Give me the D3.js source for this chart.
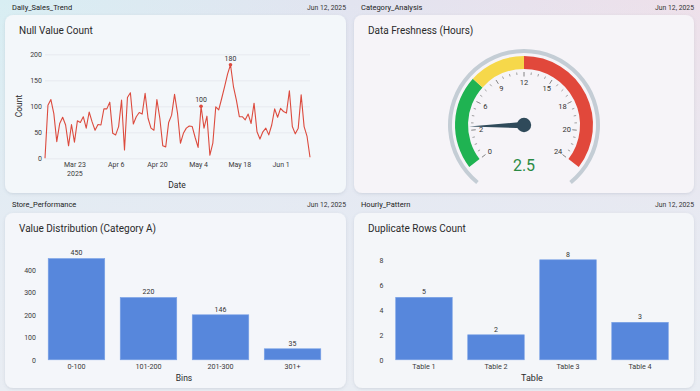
<!DOCTYPE html>
<html><head><meta charset="utf-8">
<script src="https://cdn.jsdelivr.net/npm/d3@7"></script>
<style>
html,body{margin:0;padding:0;overflow:hidden;background:#e6ebf2}
svg{display:block;font-family:Roboto,"Noto Sans",sans-serif}
</style>
</head><body>
<svg id="c" width="700" height="391"></svg>
<script>
// ---------- DATA ----------
const panelNames = ["Daily_Sales_Trend", "Category_Analysis", "Store_Performance", "Hourly_Pattern"];
const panelTitles = ["Null Value Count", "Data Freshness (Hours)", "Value Distribution (Category A)", "Duplicate Rows Count"];
const panelDate = "Jun 12, 2025";

const nullStartDate = "2025-03-13";
const nullCounts = [
  0,102,113,86,32,67,79,64,24,65,
  31,72,69,80,58,89,70,54,65,64,
  95,95,108,48,45,61,112,16,117,126,
  66,80,88,85,125,77,58,54,113,77,
  24,22,69,83,123,87,29,48,58,62,
  61,40,21,100,58,81,6,29,99,93,
  115,138,162,180,138,112,80,80,74,85,
  67,106,51,37,51,58,45,64,95,79,
  96,90,87,130,61,47,58,122,61,42,
  2];
const nullMarkedDates = ["2025-05-05", "2025-05-15"];
const nullTickDates = ["2025-03-23", "2025-04-06", "2025-04-20", "2025-05-04", "2025-05-18", "2025-06-01"];
const nullYTicks = [0, 50, 100, 150, 200];

const gaugeValue = 2.5;
const gaugeTickValues = [0, 2, 6, 9, 12, 15, 18, 20, 24];
const gaugeBands = [
  {from: 0, to: 7.5, color: "#1fb352"},
  {from: 7.5, to: 12, color: "#f6d84a"},
  {from: 12, to: 24, color: "#e1483b"}
];

const bins = ["0-100", "101-200", "201-300", "301+"];
const binCounts = [450, 277, 200, 49];
const binCountLabels = ["450", "220", "146", "35"];
const binYTicks = [0, 100, 200, 300, 400];

const tables = ["Table 1", "Table 2", "Table 3", "Table 4"];
const dupCounts = [5, 2, 8, 3];
const dupYTicks = [0, 2, 4, 6, 8];

// ---------- SETUP ----------
const svg = d3.select("#c");
const defs = svg.append("defs");

const bgH = defs.append("linearGradient").attr("id", "bgH").attr("x1", 0).attr("x2", 1).attr("y1", 0).attr("y2", 0);
bgH.append("stop").attr("offset", "0%").attr("stop-color", "#d8eef3");
bgH.append("stop").attr("offset", "50%").attr("stop-color", "#e2e4f0");
bgH.append("stop").attr("offset", "100%").attr("stop-color", "#eee0ea");
const bgV = defs.append("linearGradient").attr("id", "bgV").attr("x1", 0).attr("x2", 0).attr("y1", 0).attr("y2", 1);
bgV.append("stop").attr("offset", "0%").attr("stop-color", "#e6ebf2").attr("stop-opacity", 0);
bgV.append("stop").attr("offset", "55%").attr("stop-color", "#e6ebf3").attr("stop-opacity", 0.85);
bgV.append("stop").attr("offset", "100%").attr("stop-color", "#e9edf3").attr("stop-opacity", 1);

const sh = defs.append("filter").attr("id", "sh").attr("x", "-10%").attr("y", "-10%").attr("width", "120%").attr("height", "130%");
sh.append("feDropShadow").attr("dx", 0).attr("dy", 1).attr("stdDeviation", 1.8).attr("flood-color", "#5a6a80").attr("flood-opacity", 0.18);

svg.append("rect").attr("width", 700).attr("height", 391).attr("fill", "url(#bgH)");
svg.append("rect").attr("width", 700).attr("height", 391).attr("fill", "url(#bgV)");

const panels = [
  {x: 5, y: 15, w: 341, h: 178, hy: 10, fill: "#f3f7fa"},
  {x: 354, y: 15, w: 340, h: 178, hy: 10, fill: "#f6f4f8"},
  {x: 5, y: 213, w: 341, h: 175, hy: 207, fill: "#f4f6fa"},
  {x: 354, y: 213, w: 340, h: 175, hy: 207, fill: "#f4f6f9"}
];
panels.forEach((p, i) => {
  svg.append("text").attr("x", p.x + 7).attr("y", p.hy).attr("font-size", 7.5).attr("fill", "#222").text(panelNames[i]);
  svg.append("text").attr("x", p.x + p.w).attr("y", p.hy).attr("text-anchor", "end").attr("font-size", 6.8).attr("fill", "#333").text(panelDate);
  svg.append("rect").attr("x", p.x).attr("y", p.y).attr("width", p.w).attr("height", p.h)
    .attr("rx", 8).attr("fill", p.fill).attr("filter", "url(#sh)");
  svg.append("text").attr("x", p.x + 14).attr("y", p.y + 18.5).attr("font-size", 10).attr("fill", "#2a2a2a").text(panelTitles[i]);
});

function styleAxis(g, size) {
  g.select(".domain").remove();
  g.selectAll("text").attr("font-size", size || 7).attr("fill", "#3a3a3a").attr("font-family", "Roboto, 'Noto Sans', sans-serif");
}

// ---------- LINE CHART ----------
(function () {
  const parse = d3.timeParse("%Y-%m-%d");
  const start = parse(nullStartDate);
  const data = nullCounts.map((v, i) => ({date: d3.timeDay.offset(start, i), value: v}));
  const x = d3.scaleTime().domain(d3.extent(data, d => d.date)).range([45, 310]);
  const y = d3.scaleLinear().domain([0, 200]).range([158.3, 54.3]);

  const gy = svg.append("g").attr("transform", "translate(45,0)")
    .call(d3.axisLeft(y).tickValues(nullYTicks).tickSize(-265).tickPadding(3));
  styleAxis(gy);
  gy.selectAll("line").attr("stroke", "#e3e7ed").attr("stroke-width", 0.8);

  const gx = svg.append("g").attr("transform", "translate(0,158.3)")
    .call(d3.axisBottom(x).tickValues(nullTickDates.map(parse)).tickFormat(d3.timeFormat("%b %-d")).tickSize(0).tickPadding(3.5));
  styleAxis(gx);
  gx.selectAll(".tick").filter((d, i) => i === 0).select("text")
    .append("tspan").attr("x", 0).attr("dy", "1.25em").text("2025");

  svg.append("path").datum(data)
    .attr("fill", "none").attr("stroke", "#dc4b3e").attr("stroke-width", 1.1).attr("stroke-linejoin", "round")
    .attr("d", d3.line().x(d => x(d.date)).y(d => y(d.value)));

  const marked = data.filter(d => nullMarkedDates.includes(d3.timeFormat("%Y-%m-%d")(d.date)));
  svg.selectAll(".mk").data(marked).join("circle")
    .attr("cx", d => x(d.date)).attr("cy", d => y(d.value)).attr("r", 1.8).attr("fill", "#dc4b3e");
  svg.selectAll(".mkt").data(marked).join("text")
    .attr("x", d => x(d.date)).attr("y", d => y(d.value) - 4).attr("text-anchor", "middle")
    .attr("font-size", 7).attr("fill", "#333").text(d => d.value);

  svg.append("text").attr("x", 177).attr("y", 188).attr("text-anchor", "middle").attr("font-size", 8.5).attr("fill", "#2a2a2a").text("Date");
  svg.append("text").attr("transform", "translate(22,106) rotate(-90)").attr("text-anchor", "middle")
    .attr("font-size", 8.5).attr("fill", "#2a2a2a").text("Count");
})();

// ---------- GAUGE ----------
(function () {
  const cx = 524, cy = 125;
  const deg = Math.PI / 180;
  const n = gaugeTickValues.length - 1;
  const angle = d3.scaleLinear().domain(gaugeTickValues)
    .range(gaugeTickValues.map((d, i) => (-127.5 + i * 255 / n) * deg));
  const g = svg.append("g").attr("transform", `translate(${cx},${cy})`);

  g.append("path").attr("fill", "#c4cdd5")
    .attr("d", d3.arc()({innerRadius: 72, outerRadius: 76, startAngle: -141 * deg, endAngle: 141 * deg}));
  g.selectAll(".band").data(gaugeBands).join("path")
    .attr("fill", d => d.color)
    .attr("d", d => d3.arc()({innerRadius: 56, outerRadius: 69, startAngle: angle(d.from), endAngle: angle(d.to)}));

  // ticks (major + minor)
  const ticks = [];
  for (let i = 0; i < n; i++) {
    const a0 = gaugeTickValues[i], a1 = gaugeTickValues[i + 1];
    for (let k = 0; k < 4; k++) ticks.push({v: a0 + (a1 - a0) * k / 4, major: k === 0});
  }
  ticks.push({v: gaugeTickValues[n], major: true});
  g.selectAll(".tk").data(ticks).join("line")
    .attr("x1", d => Math.sin(angle(d.v)) * (d.major ? 48.5 : 50.5))
    .attr("y1", d => -Math.cos(angle(d.v)) * (d.major ? 48.5 : 50.5))
    .attr("x2", d => Math.sin(angle(d.v)) * 53)
    .attr("y2", d => -Math.cos(angle(d.v)) * 53)
    .attr("stroke", "#666").attr("stroke-width", d => d.major ? 0.8 : 0.6);
  g.selectAll(".tl").data(gaugeTickValues).join("text")
    .attr("x", d => Math.sin(angle(d)) * 43)
    .attr("y", d => -Math.cos(angle(d)) * 43)
    .attr("dy", "0.35em").attr("text-anchor", "middle")
    .attr("font-size", 7.5).attr("fill", "#333").text(d => d);

  const a = angle(gaugeValue);
  const L = 55, w = 3.2;
  const tip = [Math.sin(a) * L, -Math.cos(a) * L];
  const p1 = [Math.cos(a) * w, Math.sin(a) * w];
  const p2 = [-Math.cos(a) * w, -Math.sin(a) * w];
  g.append("path").attr("fill", "#2f4a5a")
    .attr("d", d3.line()([p1, tip, p2]) + "Z");
  g.append("circle").attr("r", 7.2).attr("fill", "#2f4a5a");

  g.append("text").attr("x", 0).attr("y", 45.5).attr("text-anchor", "middle")
    .attr("font-size", 16).attr("fill", "#2b8a44").text(gaugeValue);
})();

// ---------- BAR CHARTS ----------
function barChart(cats, vals, labels, yTicks, yMax, xr, xLabel, xLabelX, xLabelSize) {
  const x = d3.scaleBand().domain(cats).range(xr).paddingInner(0.215).paddingOuter(0.1);
  const y = d3.scaleLinear().domain([0, yMax]).range([359.8, 259.8]);
  const gy = svg.append("g").attr("transform", `translate(${xr[0] - 2},0)`)
    .call(d3.axisLeft(y).tickValues(yTicks).tickSize(0).tickPadding(3));
  styleAxis(gy);
  const gx = svg.append("g").attr("transform", "translate(0,359.8)")
    .call(d3.axisBottom(x).tickSize(0).tickPadding(4));
  styleAxis(gx, 7.2);
  svg.append("g").selectAll("rect").data(cats).join("rect")
    .attr("x", d => x(d)).attr("width", x.bandwidth())
    .attr("y", (d, i) => y(vals[i])).attr("height", (d, i) => y(0) - y(vals[i]))
    .attr("fill", "#5787dc").attr("stroke", "#7aa2e6").attr("stroke-width", 0.6);
  svg.append("g").selectAll("text").data(cats).join("text")
    .attr("x", d => x(d) + x.bandwidth() / 2).attr("y", (d, i) => y(vals[i]) - 3.2)
    .attr("text-anchor", "middle").attr("font-size", 7).attr("fill", "#333")
    .text((d, i) => labels[i]);
  svg.append("text").attr("x", xLabelX).attr("y", 381).attr("text-anchor", "middle")
    .attr("font-size", xLabelSize).attr("fill", "#2a2a2a").text(xLabel);
}
barChart(bins, binCounts, binCountLabels, binYTicks, 444.4, [41, 328], "Bins", 184, 8.5);
barChart(tables, dupCounts, dupCounts.map(String), dupYTicks, 8, [388.5, 675.5], "Table", 532, 9);
</script>
</body></html>
